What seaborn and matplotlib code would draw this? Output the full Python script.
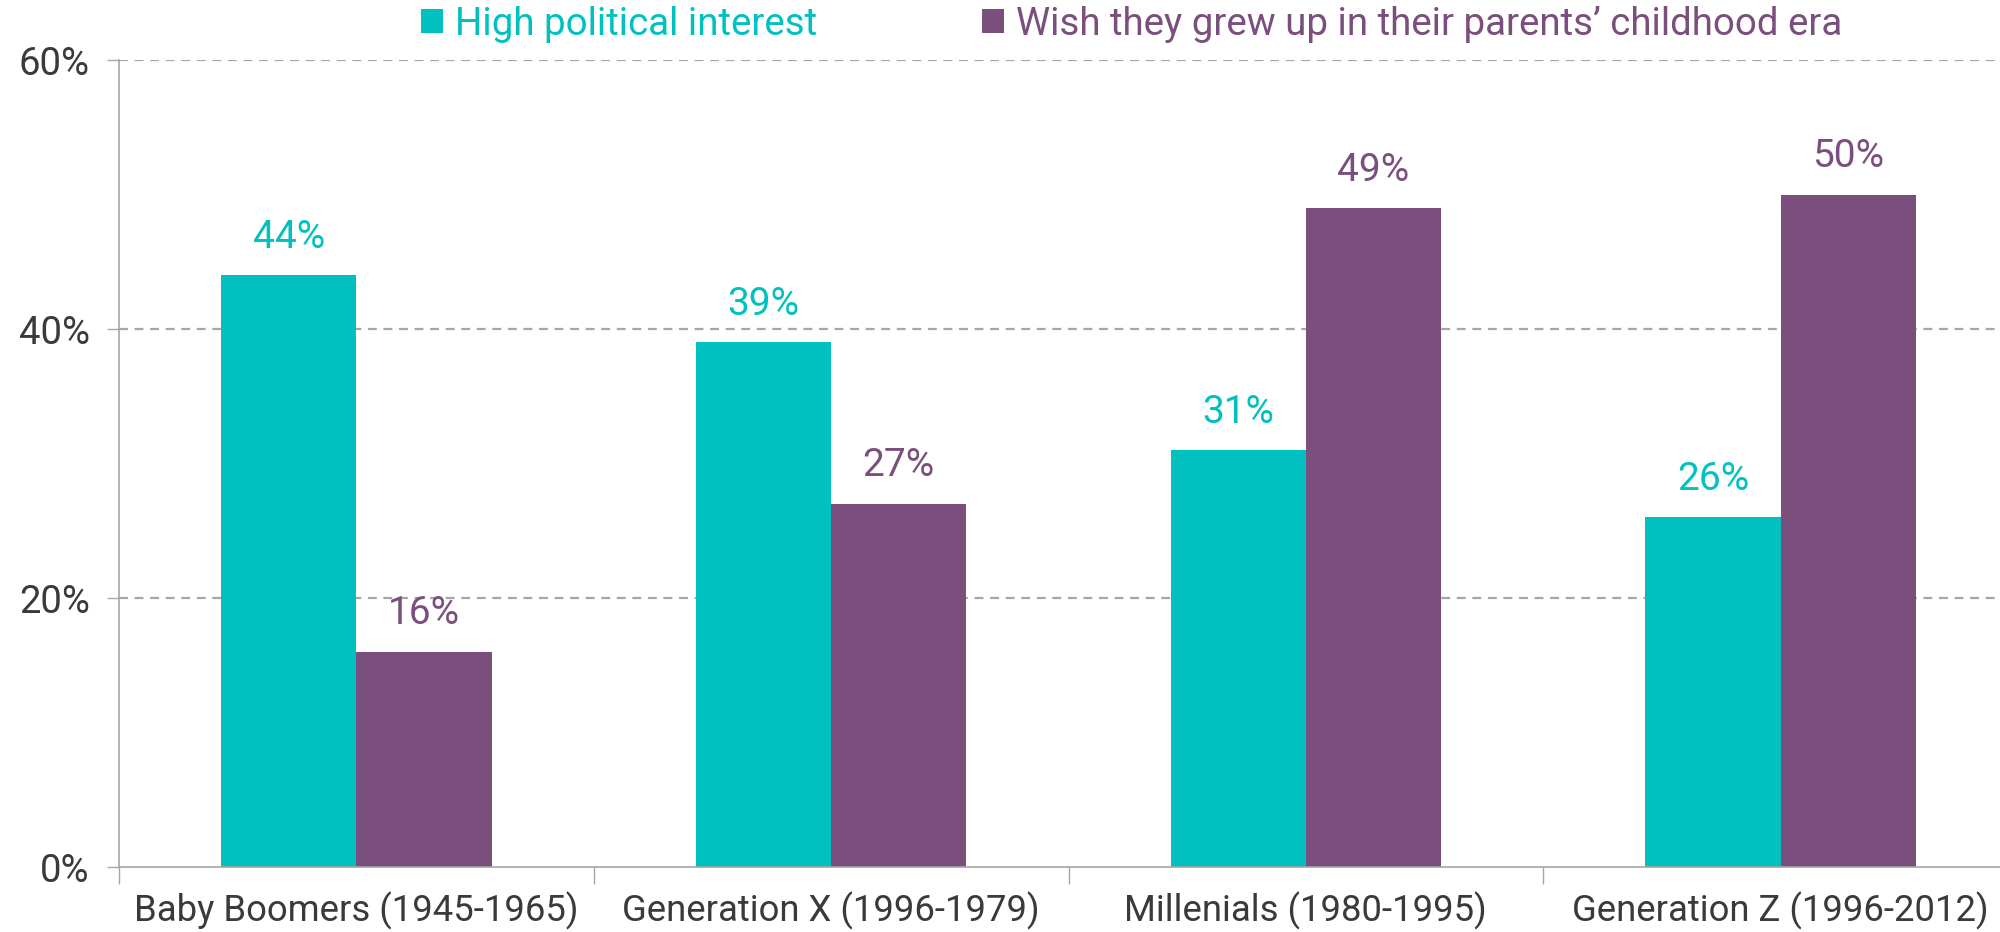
import matplotlib
matplotlib.use("Agg")
import matplotlib.pyplot as plt
import seaborn as sns
import pandas as pd
from matplotlib.ticker import FixedLocator

# data
generations = ["Baby Boomers (1945-1965)", "Generation X (1996-1979)",
               "Millenials (1980-1995)", "Generation Z (1996-2012)"]
series_names = ["High political interest", "Wish they grew up in their parents\u2019 childhood era"]
political_interest = [44, 39, 31, 26]
wish_parents_era = [16, 27, 49, 50]
y_ticks = [0, 20, 40, 60]

teal = "#00C1C0"
purple = "#7A4F7D"
txt_grey = "#3A3A3A"
line_grey = "#A6A6A6"

df = pd.DataFrame({
    "generation": generations * 2,
    "series": [series_names[0]] * 4 + [series_names[1]] * 4,
    "value": political_interest + wish_parents_era,
})

sns.set_style("white")
plt.rcParams["font.family"] = ["Roboto", "DejaVu Sans"]

fig = plt.figure(figsize=(20, 9.32), dpi=100)
ax = fig.add_axes([0.0595, 0.0697, 0.9495, 0.8659])

sns.barplot(data=df, x="generation", y="value", hue="series",
            palette=[teal, purple], width=0.57, saturation=1,
            linewidth=0, ax=ax, legend=True)

# value labels above bars
for cont, col in zip(ax.containers, [teal, purple]):
    ax.bar_label(cont, labels=[f"{v:.0f}%" for v in cont.datavalues],
                 padding=14, color=col, fontsize=28)

ax.set_ylim(0, 60)
ax.set_xlim(-0.5, 3.5)
ax.set_yticks(y_ticks)
ax.set_yticklabels([f"{t}%" for t in y_ticks])
for t in y_ticks[1:]:
    ax.axhline(t, color=line_grey, lw=1.6, ls=(0, (4, 3)), zorder=0)

ax.set_xlabel("")
ax.set_ylabel("")
ax.tick_params(axis="y", labelsize=27.5, colors=txt_grey, length=9, width=1,
               color=line_grey, pad=12, left=True)
ax.tick_params(axis="x", which="major", labelsize=26.3, colors=txt_grey,
               length=0, pad=18)
ax.xaxis.set_minor_locator(FixedLocator([-0.5, 0.5, 1.5, 2.5, 3.5]))
ax.tick_params(axis="x", which="minor", length=12, width=1, color=line_grey,
               bottom=True)

for s in ["top", "right"]:
    ax.spines[s].set_visible(False)
for s in ["left", "bottom"]:
    ax.spines[s].set_color(line_grey)
    ax.spines[s].set_linewidth(1.2)

handles, labels = ax.get_legend_handles_labels()
ax.legend(handles, labels, loc="center left", bbox_to_anchor=(0.201, 0.974),
          bbox_transform=fig.transFigure, ncol=2, frameon=False,
          handlelength=0.57, handleheight=0.57, handletextpad=0.3,
          columnspacing=4.3, borderpad=0, labelcolor=[teal, purple],
          prop={"size": 27.7})

fig.savefig("out.png", dpi=100)
